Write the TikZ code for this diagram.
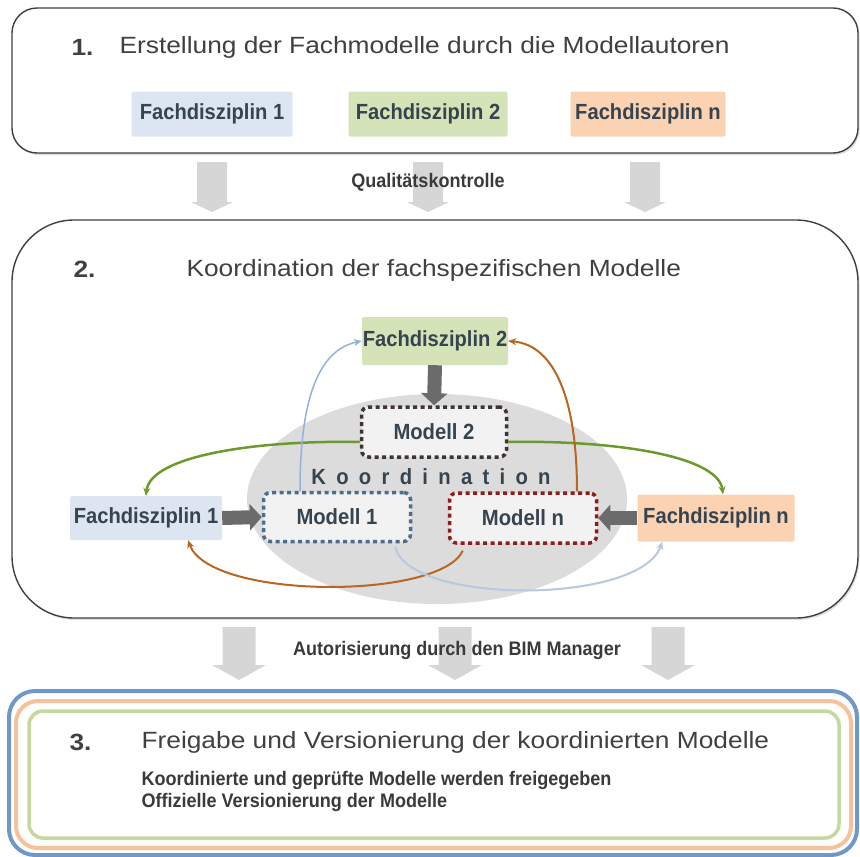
\documentclass[tikz,border=0pt]{standalone}
\usepackage{fontspec}
\setmainfont[FakeStretch=1.12]{Liberation Sans}
\newfontfamily\condfont[FakeStretch=0.92]{Liberation Sans}
\usetikzlibrary{arrows.meta,shadows}

\definecolor{txtdark}{HTML}{36444F}
\definecolor{titlegray}{HTML}{404040}
\definecolor{fdblue}{HTML}{DCE5F0}
\definecolor{fdgreen}{HTML}{D5E3B8}
\definecolor{fdorange}{HTML}{FBD3B2}
\definecolor{arrowgray}{HTML}{D6D6D6}
\definecolor{pushgray}{HTML}{6B6B6B}
\definecolor{koordgray}{HTML}{DCDCDC}
\definecolor{mtwocol}{HTML}{3E3430}
\definecolor{monecol}{HTML}{4D6D8E}
\definecolor{mncol}{HTML}{8E1D1D}
\definecolor{greenarr}{HTML}{6C9A2C}
\definecolor{brownarr}{HTML}{B9661F}
\definecolor{bluearr}{HTML}{93B3D8}
\definecolor{paleblue}{HTML}{B5CADE}
\definecolor{frameblue}{HTML}{6F97C7}
\definecolor{frameorange}{HTML}{F5C29C}
\definecolor{framegreen}{HTML}{C5D8A0}

\tikzset{
  stagebox/.style={draw=titlegray, line width=1.4pt, fill=white,
    drop shadow={opacity=0.25, shadow xshift=1.5pt, shadow yshift=-2pt}},
  fdbox/.style={inner sep=0pt, rounded corners=2pt, text=txtdark,
    font=\condfont\fontsize{21.9}{24}\selectfont\bfseries},
  modellbox/.style={draw, fill=gray!10, dash pattern=on 4pt off 3.5pt, line width=3.5pt,
    rounded corners=7pt, inner sep=0pt, text=txtdark,
    font=\condfont\fontsize{22}{24}\selectfont\bfseries},
  stepnum/.style={anchor=west, text=titlegray, font=\fontsize{23.5}{26}\selectfont\bfseries},
  steptitle/.style={anchor=west, text=titlegray, font=\fontsize{23.5}{26}\selectfont},
  smalltext/.style={text=titlegray!90!black, font=\condfont\fontsize{19.6}{22}\selectfont\bfseries},
  push/.style={draw=pushgray, line width=14pt, -{Triangle[length=12pt,width=26pt]}},
  feedback/.style={-{Stealth[length=8pt,width=7pt]}, line width=2pt},
}

\begin{document}
\begin{tikzpicture}[x=1pt, y=-1pt]
  \useasboundingbox (0,0) rectangle (860,857);

  % stage 1
  \draw[stagebox, rounded corners=25pt] (12,8) rectangle (858,153);
  \node[stepnum] (n1) at (68,47) {1.};
  \node[steptitle] (t1) at (116,47) {Erstellung der Fachmodelle durch die Modellautoren};
  \node[fdbox, fill=fdblue, minimum width=161pt, minimum height=45pt] (fa1) at (212,114) {Fachdisziplin 1};
  \node[fdbox, fill=fdgreen, minimum width=159pt, minimum height=45pt] (fa2) at (428,114) {Fachdisziplin 2};
  \node[fdbox, fill=fdorange, minimum width=155pt, minimum height=45pt] (fan) at (648,114) {Fachdisziplin n};

  \foreach \x in {212,428,645}
    \fill[arrowgray] (\x-15,162) -- (\x+15,162) -- (\x+15,202) -- (\x+21,202)
      -- (\x,212) -- (\x-21,202) -- (\x-15,202) -- cycle;
  \node[smalltext] (qk) at (428,182) {Qualitätskontrolle};

  % stage 2
  \draw[stagebox, rounded corners=62pt] (12,220) rectangle (858,618);
  \node[stepnum] (n2) at (70,269) {2.};
  \node[steptitle] (t2) at (183,270) {Koordination der fachspezifischen Modelle};

  \fill[koordgray] (437,499) ellipse [x radius=190pt, y radius=105pt];
  \node[text=txtdark, font=\condfont\fontsize{22}{24}\selectfont\bfseries] (koord) at (431,477)
    {{\spaceskip=10.3pt K o o r d i n a t i o n}};

  \node[fdbox, fill=fdgreen, minimum width=146pt, minimum height=48pt] (fd2) at (435,341) {Fachdisziplin 2};
  \node[fdbox, fill=fdblue, minimum width=152pt, minimum height=44pt] (fd1) at (146,518) {Fachdisziplin 1};
  \node[fdbox, fill=fdorange, minimum width=157pt, minimum height=47pt] (fdn) at (716,518) {Fachdisziplin n};

  \node[modellbox, draw=mtwocol, minimum width=145pt, minimum height=50pt] (m2) at (434,432) {Modell 2};
  \node[modellbox, draw=monecol, minimum width=147pt, minimum height=49pt] (m1) at (337,517) {Modell 1};
  \node[modellbox, draw=mncol, minimum width=147pt, minimum height=50pt] (mn) at (523,518) {Modell n};

  \draw[push] (fd2.south) -- (m2.north);
  \draw[push] (fd1.east) -- (m1.west);
  \draw[push] (fdn.west) -- (mn.east);

  \draw[feedback, greenarr, line width=2.5pt] ([yshift=-10pt]m2.west)
    .. controls (260,440) and (150,455) .. (fd1.north);
  \draw[feedback, greenarr, line width=2.5pt] ([yshift=-10pt]m2.east)
    .. controls (610,440) and (718,455) .. ([xshift=7pt]fdn.north);
  \draw[feedback, bluearr, line width=1.5pt] ([xshift=-37pt]m1.north)
    .. controls (300,400) and (318,350) .. (fd2.west);
  \draw[feedback, brownarr] ([xshift=54pt]mn.north)
    .. controls (577,400) and (555,345) .. (fd2.east);
  \draw[feedback, brownarr] ([xshift=15pt, yshift=-6pt]mn.south west)
    .. controls (440,600) and (210,600) .. ([xshift=42pt]fd1.south);
  \draw[feedback, paleblue] ([xshift=-17pt, yshift=-4pt]m1.south east)
    .. controls (410,605) and (640,605) .. ([xshift=25pt]fdn.south west);

  \foreach \x in {239,455,668}
    \fill[arrowgray] (\x-16.5,627) -- (\x+16.5,627) -- (\x+16.5,665) -- (\x+27,665)
      -- (\x,680) -- (\x-27,665) -- (\x-16.5,665) -- cycle;
  \node[smalltext] (auth) at (457,650) {Autorisierung durch den BIM Manager};

  % stage 3
  \draw[frameblue, line width=4pt, rounded corners=26pt] (9,691) rectangle (857,855);
  \draw[frameorange, line width=4pt, rounded corners=22pt] (16,701) rectangle (851,848);
  \draw[framegreen, line width=3.5pt, rounded corners=14pt] (29,711) rectangle (839,838);
  \node[stepnum] (n3) at (66,742) {3.};
  \node[steptitle] (t3) at (138,742) {Freigabe und Versionierung der koordinierten Modelle};
  \node[smalltext, anchor=west] (s1) at (138,780) {Koordinierte und geprüfte Modelle werden freigegeben};
  \node[smalltext, anchor=west] (s2) at (138,802) {Offizielle Versionierung der Modelle};
\end{tikzpicture}
\end{document}
